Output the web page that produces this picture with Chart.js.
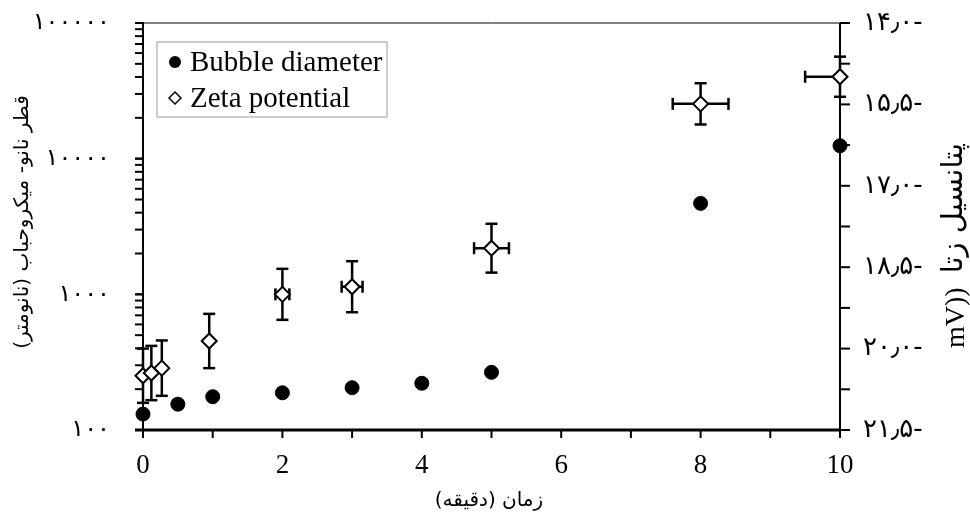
<!DOCTYPE html>
<html>
<head>
<meta charset="utf-8">
<script src="https://cdn.jsdelivr.net/npm/chart.js@4.4.1/dist/chart.umd.min.js"></script>
<style>
  html, body { margin: 0; padding: 0; background: #fff; }
  canvas { display: block; }
</style>
</head>
<body>
<canvas id="chart" width="970" height="517"></canvas>
<script>
// bubble size (log scale, nm) against time in minutes
const timeMin = [0, 0.5, 1, 2, 3, 4, 5, 8, 10];
const bubbleDiameter = [131, 155, 176, 188, 205, 221, 266, 4680, 12450];

// zeta potential (mV) with error in both directions
const zetaTime = [0, 0.12, 0.27, 0.95, 2, 3, 5, 8, 10];
const zetaPotential = [-20.5, -20.45, -20.36, -19.86, -19.0, -18.86, -18.15, -15.49, -14.99];
const zetaErrY = [0.5, 0.5, 0.51, 0.5, 0.47, 0.47, 0.45, 0.38, 0.37];
const zetaErrX = [0, 0, 0, 0, 0.1, 0.15, 0.25, 0.4, 0.5];

const timeTicks = [0, 2, 4, 6, 8, 10];
const diameterTicks = [100, 1000, 10000, 100000];
const diameterTickLabels = ['۱۰۰', '۱۰۰۰', '۱۰۰۰۰', '۱۰۰۰۰۰'];
const zetaTicks = [-21.5, -20, -18.5, -17, -15.5, -14];
const zetaTickLabels = ['۲۱٫۵-', '۲۰٫۰-', '۱۸٫۵-', '۱۷٫۰-', '۱۵٫۵-', '۱۴٫۰-'];

const seriesLabels = ['Bubble diameter', 'Zeta potential'];
const xTitle = 'زمان (دقیقه)';
const yTitle = 'قطر نانو- میکروحباب (نانومتر)';
const y2TitleUnit = 'mV))';
const y2Title = 'پتانسیل زتا';

const SERIF = "'Liberation Serif', 'Times New Roman', 'DejaVu Sans', serif";
const PERSIAN = "'DejaVu Sans', sans-serif";

const strokeLine = (ctx, x1, y1, x2, y2, w) => {
    ctx.lineWidth = w;
    ctx.beginPath();
    ctx.moveTo(x1, y1);
    ctx.lineTo(x2, y2);
    ctx.stroke();
};

// vertical scales: no extra room for half labels at the ends
const noEndPadding = (s) => {
    s.paddingTop = 0;
    s.paddingBottom = 0;
};

// axis lines, frame and tick marks
const axesFrame = {
    id: 'axesFrame',
    beforeDatasetsDraw(chart) {
        const { ctx, chartArea: a, scales } = chart;
        const { x, y, y2 } = scales;
        ctx.save();
        ctx.strokeStyle = '#000';
        ctx.lineCap = 'butt';

        strokeLine(ctx, a.left, a.top, a.right, a.top, 1);

        // left log axis: decade and minor ticks pointing out
        strokeLine(ctx, a.left, a.top - 1, a.left, a.bottom, 2);
        for (let d = y.min; d < y.max; d *= 10) {
            for (let k = 1; k <= 10; k++) {
                const py = y.getPixelForValue(d * k);
                strokeLine(ctx, a.left - 8, py, a.left, py, 2);
            }
        }

        // right linear axis, ticks every 0.75 mV
        strokeLine(ctx, a.right, a.top, a.right, a.bottom + 8, 2);
        for (let v = y2.min; v <= y2.max + 1e-6; v += 0.75) {
            const py = y2.getPixelForValue(v);
            strokeLine(ctx, a.right, py, a.right + 10, py, 2);
        }

        // bottom axis, tick each minute
        strokeLine(ctx, a.left - 8, a.bottom, a.right + 1, a.bottom, 3);
        for (let v = x.min; v <= x.max; v += 1) {
            const px = x.getPixelForValue(v);
            strokeLine(ctx, px, a.bottom, px, a.bottom + 8, 2);
        }
        ctx.restore();
    }
};

// error bars under the zeta markers
const zetaErrorBars = {
    id: 'zetaErrorBars',
    beforeDatasetsDraw(chart) {
        const { ctx, chartArea: a, scales } = chart;
        const { x, y2 } = scales;
        const cap = 6;
        ctx.save();
        ctx.strokeStyle = '#000';
        zetaPotential.forEach((v, i) => {
            const px = x.getPixelForValue(zetaTime[i]);
            const py = y2.getPixelForValue(v);
            const top = y2.getPixelForValue(v + zetaErrY[i]);
            const bottom = y2.getPixelForValue(v - zetaErrY[i]);
            strokeLine(ctx, px, top, px, bottom, 2.5);
            strokeLine(ctx, px - cap, top, px + cap, top, 2.5);
            strokeLine(ctx, px - cap, bottom, px + cap, bottom, 2.5);
            if (zetaErrX[i] > 0) {
                const left = x.getPixelForValue(zetaTime[i] - zetaErrX[i]);
                const right = x.getPixelForValue(zetaTime[i] + zetaErrX[i]);
                strokeLine(ctx, left, py, Math.min(right, a.right), py, 2.5);
                strokeLine(ctx, left, py - cap, left, py + cap, 2.5);
                if (right <= a.right) strokeLine(ctx, right, py - cap, right, py + cap, 2.5);
            }
        });
        ctx.restore();
    }
};

// boxed legend in the upper left of the plot
const boxLegend = {
    id: 'boxLegend',
    afterDatasetsDraw(chart) {
        const { ctx, chartArea: a } = chart;
        const bx = a.left + 14, by = a.top + 19, bw = 230, bh = 75;
        ctx.save();
        ctx.fillStyle = '#fff';
        ctx.fillRect(bx, by, bw, bh);
        ctx.strokeStyle = '#bdbdbd';
        ctx.lineWidth = 1.5;
        ctx.strokeRect(bx, by, bw, bh);

        ctx.font = `29px ${SERIF}`;
        ctx.textBaseline = 'middle';
        ctx.textAlign = 'left';
        chart.data.datasets.forEach((ds, i) => {
            const cy = by + 20 + i * 36;
            const mx = bx + 18;
            ctx.beginPath();
            if (ds.pointStyle === 'rectRot') {
                const r = 6;
                ctx.moveTo(mx - r, cy);
                ctx.lineTo(mx, cy - r);
                ctx.lineTo(mx + r, cy);
                ctx.lineTo(mx, cy + r);
                ctx.closePath();
                ctx.fillStyle = '#fff';
                ctx.fill();
                ctx.lineWidth = 1.5;
                ctx.strokeStyle = '#000';
                ctx.stroke();
            } else {
                ctx.arc(mx, cy, 6, 0, Math.PI * 2);
                ctx.fillStyle = '#000';
                ctx.fill();
            }
            ctx.fillStyle = '#000';
            ctx.fillText(ds.label, bx + 33, cy + 1);
        });
        ctx.restore();
    }
};

// axis titles; the Persian ones are laid out right-to-left
const axisTitles = {
    id: 'axisTitles',
    afterDraw(chart) {
        const { ctx } = chart;
        ctx.save();
        ctx.fillStyle = '#000';
        ctx.textBaseline = 'middle';
        ctx.textAlign = 'center';

        ctx.direction = 'rtl';
        ctx.font = `20px ${PERSIAN}`;
        ctx.fillText(xTitle, 489, 501);

        ctx.translate(23, 222);
        ctx.rotate(-Math.PI / 2);
        ctx.fillText(yTitle, 0, 0);
        ctx.restore();

        // right title: unit at the bottom, Persian words above it
        ctx.save();
        ctx.fillStyle = '#000';
        ctx.textBaseline = 'middle';
        ctx.translate(957, 348);
        ctx.rotate(-Math.PI / 2);
        ctx.textAlign = 'left';
        ctx.direction = 'ltr';
        ctx.font = `28px ${SERIF}`;
        ctx.fillText(y2TitleUnit, 0, 0);
        const unitW = ctx.measureText(y2TitleUnit).width;
        ctx.direction = 'rtl';
        ctx.textAlign = 'left';
        ctx.font = `29px ${PERSIAN}`;
        ctx.fillText(y2Title, unitW + 14, -3);
        ctx.restore();
    }
};

new Chart(document.getElementById('chart'), {
    type: 'scatter',
    data: {
        datasets: [
            {
                label: seriesLabels[0],
                data: timeMin.map((t, i) => ({ x: t, y: bubbleDiameter[i] })),
                yAxisID: 'y',
                pointStyle: 'circle',
                pointRadius: 7,
                backgroundColor: '#000',
                borderColor: '#000',
                borderWidth: 1,
                clip: false
            },
            {
                label: seriesLabels[1],
                data: zetaTime.map((t, i) => ({ x: t, y: zetaPotential[i] })),
                yAxisID: 'y2',
                pointStyle: 'rectRot',
                pointRadius: 7.5,
                backgroundColor: '#fff',
                borderColor: '#000',
                borderWidth: 2,
                clip: false
            }
        ]
    },
    options: {
        responsive: false,
        animation: false,
        layout: { padding: { top: 23, left: 0, right: 0, bottom: 0 } },
        plugins: {
            legend: { display: false },
            tooltip: { enabled: false }
        },
        scales: {
            x: {
                type: 'linear',
                position: 'bottom',
                min: 0,
                max: 10,
                afterBuildTicks: (s) => { s.ticks = timeTicks.map((v) => ({ value: v })); },
                afterFit: (s) => { s.height = 87; s.paddingLeft = 0; s.paddingRight = 0; },
                grid: { display: false, drawTicks: false },
                border: { display: false },
                ticks: {
                    color: '#000',
                    padding: 20,
                    maxRotation: 0,
                    font: { family: SERIF, size: 27 }
                }
            },
            y: {
                type: 'logarithmic',
                position: 'left',
                min: 100,
                max: 100000,
                afterBuildTicks: (s) => { s.ticks = diameterTicks.map((v) => ({ value: v })); },
                afterFit: (s) => { s.width = 143; noEndPadding(s); },
                grid: { display: false, drawTicks: false },
                border: { display: false },
                ticks: {
                    color: '#000',
                    padding: 33,
                    font: { family: PERSIAN, size: 24 },
                    callback: (v, i) => diameterTickLabels[i]
                }
            },
            y2: {
                type: 'linear',
                position: 'right',
                min: -21.5,
                max: -14,
                afterBuildTicks: (s) => { s.ticks = zetaTicks.map((v) => ({ value: v })); },
                afterFit: (s) => { s.width = 130; noEndPadding(s); },
                grid: { display: false, drawTicks: false },
                border: { display: false },
                ticks: {
                    color: '#000',
                    padding: 23,
                    font: { family: PERSIAN, size: 26 },
                    callback: (v, i) => zetaTickLabels[i]
                }
            }
        }
    },
    plugins: [axesFrame, zetaErrorBars, boxLegend, axisTitles]
});
</script>
</body>
</html>
